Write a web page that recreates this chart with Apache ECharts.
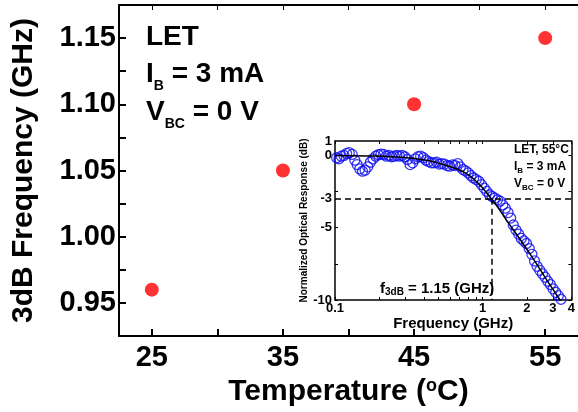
<!DOCTYPE html>
<html>
<head>
<meta charset="utf-8">
<script src="https://cdn.jsdelivr.net/npm/echarts@6/dist/echarts.min.js"></script>
<style>
  html, body { margin: 0; padding: 0; background: #fff; }
  #chart { width: 578px; height: 412px; }
</style>
</head>
<body>
<div id="chart"></div>
<script>
var FONT = "'Liberation Sans', Arial, sans-serif";

// main plot: 3dB frequency vs temperature
var temperature = [25, 35, 45, 55];
var f3dB = [0.96, 1.05, 1.10, 1.15];
var tempLabels = [25, 35, 45, 55];
var tempTicks = [25, 30, 35, 40, 45, 50, 55];
var freqLabels = [0.95, 1.00, 1.05, 1.10, 1.15];
var freqTicks = [0.95, 0.975, 1.0, 1.025, 1.05, 1.075, 1.1, 1.125, 1.15];

// inset: normalized optical response at 55 C
var respFreq = [0.1026, 0.1064, 0.1103, 0.1150, 0.1198, 0.1249, 0.1308, 0.1363, 0.1413, 0.1473,
  0.1535, 0.1600, 0.1667, 0.1738, 0.1811, 0.1887, 0.1967, 0.2050, 0.2136, 0.2226,
  0.2320, 0.2418, 0.2520, 0.2626, 0.2737, 0.2852, 0.2972, 0.3097, 0.3228, 0.3364,
  0.3506, 0.3654, 0.3807, 0.3968, 0.4135, 0.4309, 0.4491, 0.4680, 0.4877, 0.5083,
  0.5297, 0.5521, 0.5753, 0.5996, 0.6252, 0.6513, 0.6787, 0.7074, 0.7373, 0.7684,
  0.8007, 0.8345, 0.8698, 0.9065, 0.9447, 0.9847, 1.026, 1.069, 1.115, 1.161,
  1.211, 1.262, 1.315, 1.371, 1.428, 1.488, 1.551, 1.616, 1.685, 1.756,
  1.830, 1.907, 1.987, 2.071, 2.159, 2.250, 2.344, 2.443, 2.546, 2.654,
  2.765, 2.882, 3.004, 3.130, 3.263, 3.400];
var respDb = [-0.16, -0.23, -0.05, 0.00, 0.14, 0.19, 0.07, -0.33, -0.63, -0.93,
  -1.09, -1.02, -0.79, -0.47, -0.23, -0.05, 0.05, 0.09, 0.07, -0.05,
  0.00, -0.09, -0.05, 0.00, -0.05, 0.00, -0.09, -0.28, -0.63, -0.51,
  -0.23, -0.09, -0.05, -0.16, -0.33, -0.42, -0.51, -0.51, -0.47, -0.60,
  -0.56, -0.60, -0.70, -0.74, -0.65, -0.70, -0.56, -0.79, -0.98, -1.07,
  -1.21, -1.40, -1.56, -1.67, -1.79, -2.02, -2.26, -2.49, -2.72, -2.84,
  -2.95, -3.07, -3.16, -3.42, -3.65, -3.95, -4.33, -4.81, -5.16, -5.44,
  -5.74, -5.91, -6.09, -6.44, -6.84, -7.30, -7.67, -7.95, -8.19, -8.42,
  -8.70, -8.93, -9.23, -9.47, -9.70, -9.95];
var fitFreq = [0.1, 0.165, 0.276, 0.397, 0.513, 0.632, 0.777, 0.907, 1.03, 1.15,
  1.30, 1.48, 1.685, 1.97, 2.29, 2.68, 3.13, 3.56];
var fitDb = [0, -0.03, -0.12, -0.3, -0.55, -0.85, -1.25, -1.8, -2.4, -3.0,
  -3.75, -4.6, -5.4, -6.4, -7.4, -8.5, -9.55, -10.4];
var insetXLabels = [0.1, 1, 2, 3, 4];
var insetXTicks = [0.1, 0.2, 0.3, 0.4, 0.5, 0.6, 0.7, 0.8, 0.9, 1, 2, 3, 4];
var insetYLabels = [1, 0, -3, -5, -10];
var insetYTicks = [0, -2.5, -5, -7.5, -10];
var cutoffFreq = 1.15;
var cutoffDb = -3;

function zip(a, b) {
  var out = [];
  for (var i = 0; i < a.length; i++) out.push([a[i], b[i]]);
  return out;
}

var bold = function(size, extra) {
  var s = { fontSize: size, fontWeight: 'bold', fontFamily: FONT, color: '#000' };
  for (var k in extra) s[k] = extra[k];
  return s;
};

var chart = echarts.init(document.getElementById('chart'));

var option = {
  animation: false,
  backgroundColor: '#fff',
  grid: [
    { left: 119, top: 5, right: 0, bottom: 71 },
    { left: 335, top: 141, right: 6, bottom: 112, show: true, backgroundColor: '#fff', borderWidth: 0 }
  ],
  xAxis: [
    {
      gridIndex: 0, type: 'value', min: 22.5, max: 57.5,
      axisLine: { onZero: false, lineStyle: { color: '#000', width: 2 } },
      axisTick: { inside: true, length: 7, customValues: tempTicks, lineStyle: { width: 2 } },
      axisLabel: bold(29, { customValues: tempLabels, margin: 7 }),
      splitLine: { show: false },
      name: 'Temperature ({s|o}C)', nameLocation: 'middle', nameGap: 41,
      nameTextStyle: bold(30, { rich: { s: bold(18, { lineHeight: 18, verticalAlign: 'top' }) } })
    },
    {
      gridIndex: 0, type: 'value', position: 'top', min: 22.5, max: 57.5,
      axisLine: { onZero: false, lineStyle: { color: '#000', width: 2 } },
      axisTick: { inside: true, length: 5, customValues: tempTicks, lineStyle: { width: 1 } },
      axisLabel: { show: false }, splitLine: { show: false }
    },
    {
      gridIndex: 1, type: 'log', logBase: 10, min: 0.1, max: 4,
      axisLine: { onZero: false, lineStyle: { color: '#000', width: 1.5 } },
      axisTick: { inside: true, length: 3, customValues: insetXTicks, lineStyle: { width: 1 } },
      axisLabel: bold(13, { customValues: insetXLabels, margin: 2 }),
      splitLine: { show: false }, minorTick: { show: false },
      name: 'Frequency (GHz)', nameLocation: 'middle', nameGap: 16,
      nameTextStyle: bold(15)
    },
    {
      gridIndex: 1, type: 'log', logBase: 10, position: 'top', min: 0.1, max: 4,
      axisLine: { onZero: false, lineStyle: { color: '#000', width: 1.5 } },
      axisTick: { inside: true, length: 3, customValues: insetXTicks, lineStyle: { width: 1 } },
      axisLabel: { show: false }, splitLine: { show: false }
    }
  ],
  yAxis: [
    {
      gridIndex: 0, type: 'value', min: 0.925, max: 1.175,
      axisLine: { show: true, onZero: false, lineStyle: { color: '#000', width: 2 } },
      axisTick: { show: true, inside: true, length: 7, customValues: freqTicks, lineStyle: { width: 2 } },
      axisLabel: bold(29, { customValues: freqLabels, margin: 3, formatter: function(v) { return v.toFixed(2); } }),
      splitLine: { show: false },
      name: '3dB Frequency (GHz)', nameLocation: 'middle', nameGap: 80,
      nameTextStyle: bold(30)
    },
    {
      gridIndex: 1, type: 'value', min: -10, max: 1,
      axisLine: { show: true, onZero: false, lineStyle: { color: '#000', width: 1.5 } },
      axisTick: { show: true, inside: true, length: 3, customValues: insetYTicks, lineStyle: { width: 1 } },
      axisLabel: bold(13, { customValues: insetYLabels, margin: 3 }),
      splitLine: { show: false },
      name: 'Normalized Optical Response (dB)', nameLocation: 'middle', nameGap: 25,
      nameTextStyle: bold(10)
    },
    {
      gridIndex: 1, type: 'value', position: 'right', min: -10, max: 1,
      axisLine: { show: true, onZero: false, lineStyle: { color: '#000', width: 1.5 } },
      axisTick: { show: true, inside: true, length: 3, customValues: insetYTicks, lineStyle: { width: 1 } },
      axisLabel: { show: false }, splitLine: { show: false }
    }
  ],
  series: [
    {
      type: 'scatter', xAxisIndex: 0, yAxisIndex: 0,
      symbol: 'circle', symbolSize: 14,
      itemStyle: { color: '#ff0000' },
      data: zip(temperature, f3dB)
    },
    {
      type: 'scatter', xAxisIndex: 2, yAxisIndex: 1,
      symbol: 'circle', symbolSize: 10,
      itemStyle: { color: 'rgba(0,0,0,0)', borderColor: '#0a0af0', borderWidth: 1.3 },
      data: zip(respFreq, respDb)
    },
    {
      type: 'line', xAxisIndex: 2, yAxisIndex: 1,
      showSymbol: false, smooth: true,
      lineStyle: { color: '#000', width: 1.5 },
      data: zip(fitFreq, fitDb),
      markLine: {
        silent: true, symbol: 'none', label: { show: false },
        lineStyle: { color: '#000', width: 1.5, type: [6, 4] },
        data: [
          [{ coord: [0.1, cutoffDb] }, { coord: [4, cutoffDb] }],
          [{ coord: [cutoffFreq, cutoffDb] }, { coord: [cutoffFreq, -10] }]
        ]
      }
    }
  ],
  graphic: [
    {
      type: 'text', left: 146, top: 23,
      style: {
        text: '{a|LET}\n{a|I}{b|B}{a| = 3 mA}\n{a|V}{b|BC}{a| = 0 V}',
        fill: '#000',
        rich: {
          a: { fontSize: 28, fontWeight: 'bold', fontFamily: FONT, lineHeight: 37.5, fill: '#000' },
          b: { fontSize: 14, fontWeight: 'bold', fontFamily: FONT, lineHeight: 14, verticalAlign: 'bottom', fill: '#000' }
        }
      }
    },
    {
      type: 'text', left: 514, top: 144,
      style: {
        text: '{a|LET, 55°C}\n{a|I}{b|B}{a| = 3 mA}\n{a|V}{b|BC}{a| = 0 V}',
        fill: '#000',
        rich: {
          a: { fontSize: 12, fontWeight: 'bold', fontFamily: FONT, lineHeight: 16.8, fill: '#000' },
          b: { fontSize: 8, fontWeight: 'bold', fontFamily: FONT, lineHeight: 8, verticalAlign: 'bottom', fill: '#000' }
        }
      }
    },
    {
      type: 'text', left: 380, top: 281,
      style: {
        text: '{a|f}{b|3dB}{a| = 1.15 (GHz)}',
        fill: '#000',
        rich: {
          a: { fontSize: 15, fontWeight: 'bold', fontFamily: FONT, lineHeight: 18, fill: '#000' },
          b: { fontSize: 10, fontWeight: 'bold', fontFamily: FONT, lineHeight: 10, verticalAlign: 'bottom', fill: '#000' }
        }
      }
    }
  ]
};

chart.setOption(option);
</script>
</body>
</html>
